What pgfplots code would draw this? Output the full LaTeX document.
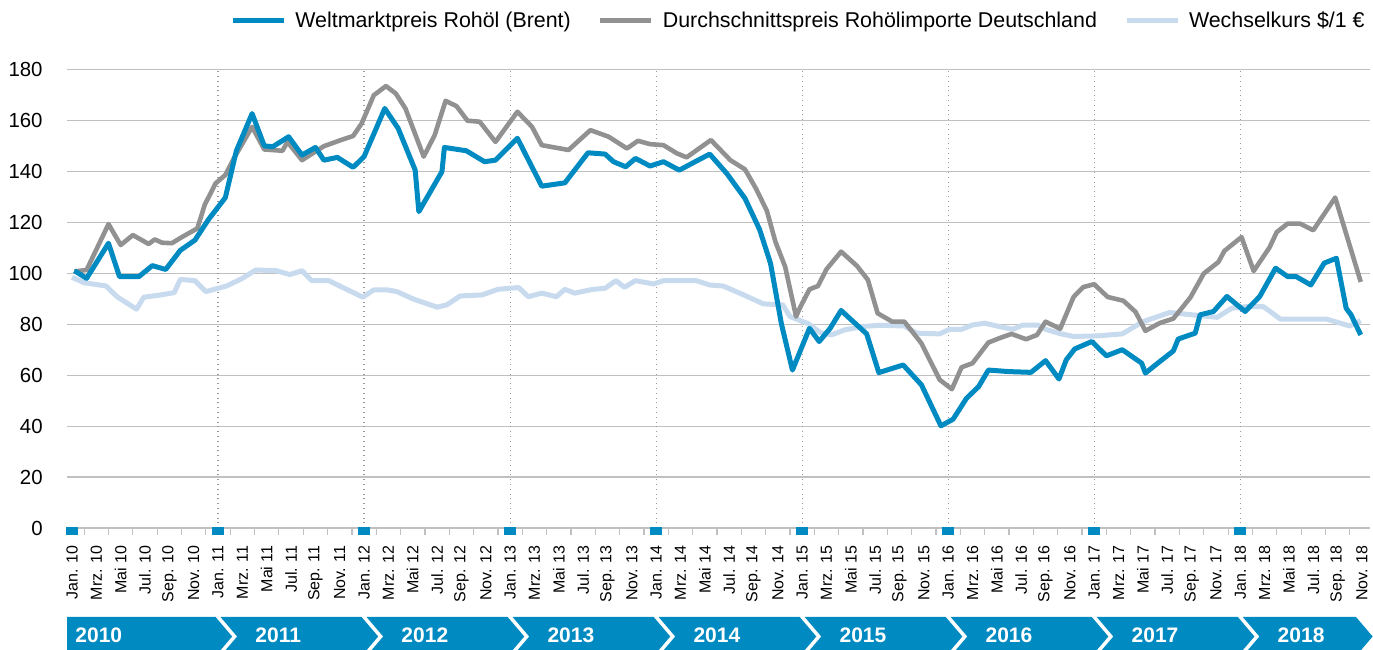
\documentclass[border=0pt]{standalone}
\usepackage{pgfplots}
\pgfplotsset{compat=1.18}
\usepackage{fontspec}
\setmainfont{Liberation Sans}
\definecolor{kblue}{RGB}{0,138,194}
\definecolor{kgray}{RGB}{145,145,145}
\definecolor{klight}{RGB}{200,218,238}
\definecolor{gridc}{RGB}{192,192,192}
\begin{document}
\begin{tikzpicture}
\begin{axis}[
  at={(33.5pt,60.5pt)}, anchor=south west,
  scale only axis, width=651.5pt, height=229.25pt,
  xmin=-0.411, xmax=106.66, ymin=0, ymax=180,
  clip=false,
  axis x line*=bottom, axis y line*=left,
  x axis line style={draw=gridc, line width=0.6pt, -},
  y axis line style={draw=none},
  ytick={0,20,...,180},
  ymajorgrids=true,
  y grid style={gridc, line width=0.6pt},
  ytick style={draw=none},
  yticklabel style={font=\fontsize{10.2}{12}\selectfont, anchor=east, inner sep=0pt},
  yticklabel shift=12pt,
  xtick={0,2,...,106},
  xticklabels={Jan. 10, Mrz. 10, Mai 10, Jul. 10, Sep. 10, Nov. 10,
               Jan. 11, Mrz. 11, Mai 11, Jul. 11, Sep. 11, Nov. 11,
               Jan. 12, Mrz. 12, Mai 12, Jul. 12, Sep. 12, Nov. 12,
               Jan. 13, Mrz. 13, Mai 13, Jul. 13, Sep. 13, Nov. 13,
               Jan. 14, Mrz. 14, Mai 14, Jul. 14, Sep. 14, Nov. 14,
               Jan. 15, Mrz. 15, Mai 15, Jul. 15, Sep. 15, Nov. 15,
               Jan. 16, Mrz. 16, Mai 16, Jul. 16, Sep. 16, Nov. 16,
               Jan. 17, Mrz. 17, Mai 17, Jul. 17, Sep. 17, Nov. 17,
               Jan. 18, Mrz. 18, Mai 18, Jul. 18, Sep. 18, Nov. 18},
  major tick length=0pt,
  minor xtick={1,3,...,105},
  minor tick length=3.5pt,
  tick align=outside,
  minor tick style={gridc, line width=0.6pt},
  xticklabel style={rotate=90, anchor=east, inner sep=0pt, font=\fontsize{8}{9.6}\selectfont},
  xticklabel shift=8.5pt,
  extra x ticks={12,24,...,96},
  extra x tick labels={},
  extra x tick style={grid=major, major grid style={gray!80, dotted, line width=0.6pt}},
  /pgf/number format/assume math mode=true,
  legend columns=3,
  legend style={at={(0.9962,1.1058)}, anchor=east, draw=none, fill=none, inner sep=0pt,
    font=\fontsize{10.7}{12}\selectfont,
    nodes={inner sep=0pt},
    /tikz/every odd column/.append style={column sep=4.5pt},
    /tikz/every even column/.append style={column sep=13.5pt}},
  legend image code/.code={\draw[#1, line width=2.5pt] (0pt,0pt) -- (25.5pt,0pt);},
]
\addlegendimage{kblue}
\addlegendentry{Weltmarktpreis Rohöl (Brent)}
\addlegendimage{kgray}
\addlegendentry{Durchschnittspreis Rohölimporte Deutschland}
\addlegendimage{klight}
\addlegendentry{Wechselkurs \$/1 €}

% Wechselkurs
\addplot[klight, line width=2.5pt, line join=round, forget plot] coordinates {
(0,98.4) (1,96.3) (2.8,95) (3.7,90.8) (5.3,85.9) (5.9,90.6) (7.3,91.5) (8.4,92.4) (8.9,97.6) (10.1,97.1)
(11.0,92.8) (12.7,95) (14,98) (15.1,101.3) (16.8,101) (17.9,99.5) (18.9,101) (19.7,97.1) (21.1,97.1)
(23.9,90.6) (24.8,93.5) (25.9,93.5) (26.7,92.8) (28.1,89.8) (30.0,86.7) (30.8,87.6) (31.9,91.1) (33.7,91.5)
(35.0,93.7) (36.7,94.4) (37.5,90.8) (38.6,92.2) (39.8,90.8) (40.5,93.7) (41.3,92.2) (42.8,93.7) (43.8,94.1)
(44.7,97.1) (45.4,94.5) (46.3,97.1) (47.8,95.8) (48.6,97.1) (51.3,97.1) (52.4,95.4) (53.5,95) (55.2,91.5)
(56.8,88) (58.4,87.6) (59.0,83) (60.5,80.2) (61.5,76.7) (62.4,75.8) (63.5,77.8) (65,79.1) (66.4,79.6)
(68.4,79.3) (69.4,76.5) (71.3,76.2) (72.1,78) (73.1,78) (74.0,79.7) (75,80.4) (76.2,79.1) (77.3,78)
(78.1,79.6) (79.4,79.6) (80,78) (81.2,76.3) (82.3,75.2) (84.2,75.4) (86.3,76.2) (88.0,81) (90.2,84.6)
(94.1,82.7) (95.3,86.3) (96.5,86.9) (97.9,86.9) (99.3,82) (103.1,82) (105,79.3) (105.9,81.4)
};
% Durchschnittspreis
\addplot[kgray, line width=2.3pt, line join=round, forget plot] coordinates {
(0.2,100.7) (1.2,101.3) (3.0,119.3) (4.0,111.1) (5.0,115) (6.3,111.5) (6.8,113.3) (7.4,112) (8.2,111.8)
(9.1,114.4) (10.3,117.6) (10.9,126.8) (11.8,135.3) (12.6,138.6) (13.3,145.1) (14.8,157.5) (15.8,148.6)
(17.3,148.1) (17.7,151.6) (18.9,144.4) (20.7,149.9) (22.1,152.3) (23.1,153.9) (23.8,158.8) (24.8,169.9)
(25.8,173.5) (26.6,170.6) (27.4,164.7) (28.9,145.8) (29.8,154.2) (30.7,167.7) (31.6,165.6) (32.5,159.9)
(33.5,159.5) (34.8,151.6) (36.6,163.4) (37.8,157.5) (38.6,150.3) (40.8,148.4) (42.6,156.2) (44.1,153.6)
(45.6,149.0) (46.5,152.0) (47.5,150.7) (48.6,150.3) (49.7,147.1) (50.5,145.5) (52.5,152.3) (54.1,144.4)
(55.3,140.8) (56.2,133.3) (57.1,124.5) (57.8,112.4) (58.6,102.6) (59.5,83) (59.8,86.3) (60.6,93.7)
(61.3,95) (62.0,101.6) (63.2,108.5) (64.5,102.9) (65.4,97.4) (66.2,84.3) (67.4,81) (68.4,81) (69.8,72.5)
(71.3,58.2) (72.3,54.5) (73.1,63.1) (74,64.7) (75.3,72.8) (76.2,74.5) (77.2,76.2) (78.4,74.1) (79.3,75.8)
(80.0,81) (81.2,78.2) (82.3,90.7) (83.1,94.6) (84.0,95.7) (85.1,90.7) (86.4,89.2) (87.4,84.8) (88.2,77.4)
(89.4,80.5) (90.5,82.2) (91.9,90.5) (93,99.9) (94.2,104.4) (94.7,108.8) (96.1,114.2) (97.1,100.9)
(98.4,110.1) (99.0,116.2) (99.9,119.5) (100.9,119.5) (102,116.9) (103.8,129.7) (105.9,96.6)
};
% Brent
\addplot[kblue, line width=2.5pt, line join=round, forget plot] coordinates {
(0.2,101) (1.2,98) (3.0,111.8) (3.9,98.7) (5.5,98.7) (6.6,103) (7.7,101.5) (8.9,109) (10.1,113) (11.2,121)
(12.6,129.7) (13.5,148) (14.8,162.7) (15.8,150) (16.5,149.7) (17.8,153.6) (18.9,146.4) (20.0,149.4)
(20.7,144.4) (21.8,145.5) (23.1,141.6) (24.0,145.8) (25.7,164.7) (26.8,156.9) (28.2,140.5) (28.5,124.2)
(30.4,139.9) (30.6,149.4) (32.4,148.1) (33.9,143.8) (34.8,144.4) (36.6,153) (38.6,134.2) (40.5,135.5)
(42.4,147.3) (43.8,146.8) (44.5,143.8) (45.5,141.8) (46.3,145.1) (47.5,142.1) (48.6,143.8) (49.9,140.5)
(52.4,146.8) (53.8,139.2) (55.3,129.4) (56.5,117.2) (57.4,103.9) (58.3,80) (59.2,62) (60.6,78.4)
(61.4,73.2) (62.3,78.4) (63.2,85.4) (64.2,81) (65.3,76.2) (66.3,61) (68.3,64) (69.8,56.2) (71.4,40.1)
(72.4,42.7) (73.5,50.9) (74.5,55.5) (75.3,62.0) (77,61.4) (78.8,61.1) (80,65.7) (81.1,58.5) (81.7,66)
(82.4,70.3) (83.8,73.2) (85,67.6) (86.3,70) (87.9,64.7) (88.2,60.8) (89.4,65.4) (90.5,69.5) (90.9,74.2)
(92.3,76.5) (92.7,83.7) (93.8,85) (94.9,90.9) (96.4,85) (97.6,90.9) (98.9,102) (99.9,98.7) (100.6,98.7)
(101.8,95.4) (102.9,104) (103.9,105.9) (104.7,86.3) (105.1,83.7) (105.9,75.8)
};
% January markers
\addplot[kblue, only marks, mark=square*, mark size=1.75pt, mark options={fill=kblue, draw=kblue, line width=0pt, xscale=1.53}, forget plot]
coordinates {(0,-1.37) (12,-1.37) (24,-1.37) (36,-1.37) (48,-1.37) (60,-1.37) (72,-1.37) (84,-1.37) (96,-1.37)};
\end{axis}
% year band
\foreach \k/\yr in {0/2010,1/2011,2/2012,3/2013,4/2014,5/2015,6/2016,7/2017,8/2018} {
  \pgfmathsetmacro{\L}{\k==0 ? 33.5 : 36+73.02*\k+1.25}
  \pgfmathsetmacro{\R}{\k==8 ? 678 : 36+73.02*(\k+1)-1.25}
  \pgfmathsetmacro{\N}{\k==0 ? 0 : 8.3}
  \pgfmathsetmacro{\T}{\k==0 ? 37.5 : 36+73.02*\k+18.5}
  \fill[kblue] (\L pt,16pt) -- (\R pt,16pt) -- (\R pt+8.3pt,6.25pt) -- (\R pt,-3.5pt)
     -- (\L pt,-3.5pt) -- (\L pt+\N pt,6.25pt) -- cycle;
  \node[anchor=base west, inner sep=0pt, text=white, font=\fontsize{10.5}{12}\selectfont\bfseries] at (\T pt,3pt) {\yr};
}
\pgfresetboundingbox
\useasboundingbox (0,0) rectangle (686.5pt,324.5pt);
\end{tikzpicture}
\end{document}
